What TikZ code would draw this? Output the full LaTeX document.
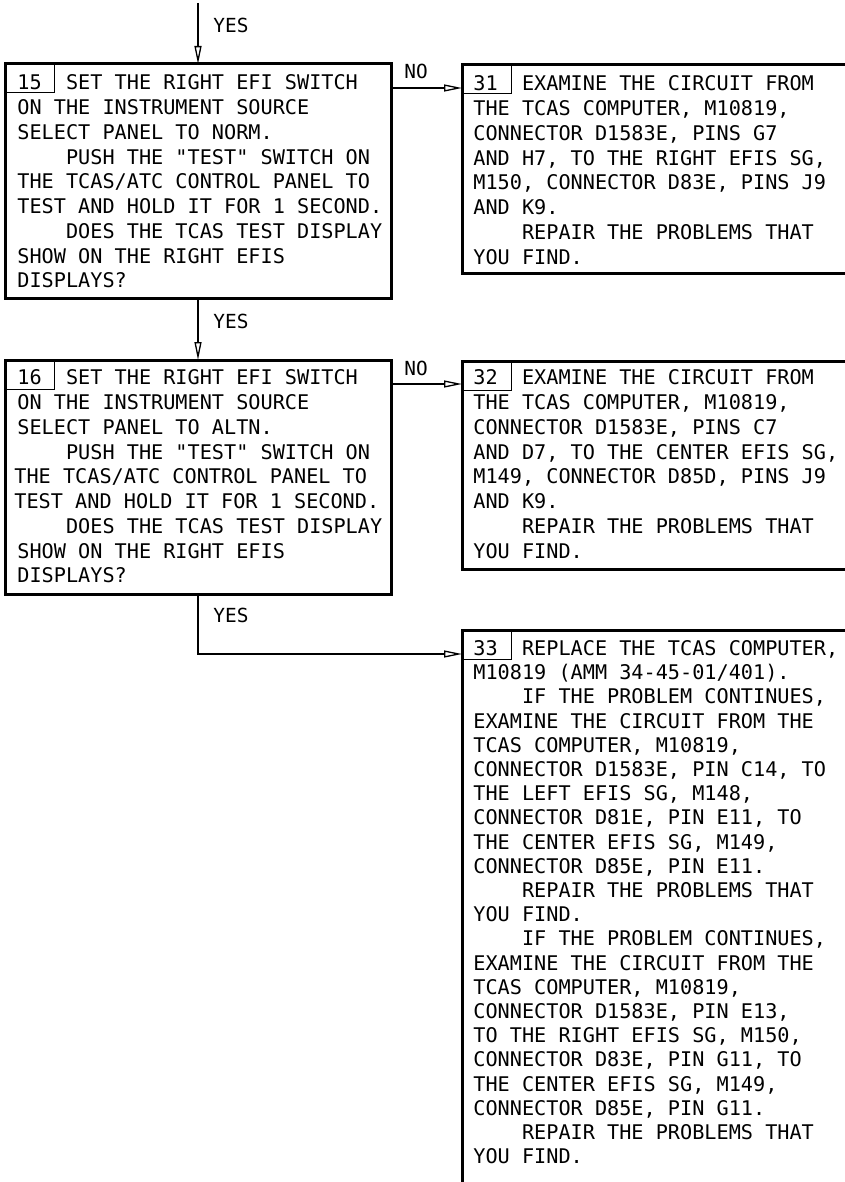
\documentclass[tikz,border=0pt]{standalone}
\usepackage{fontspec}
\newfontfamily\mono[Ligatures=TeXOff]{DejaVu Sans Mono}
\usetikzlibrary{arrows.meta}
\newcommand\myind{\hphantom{XXXX}}
\newcommand\mysp{\hphantom{XX}}
\newcommand\fl{\rule{0pt}{9pt}}
\tikzset{
  box/.style={draw, line width=1.5pt, inner sep=0pt, outer sep=0pt, anchor=north west},
  numbox/.style={draw, line width=0.5pt, inner sep=0pt, outer sep=0pt, anchor=north west,
    minimum width=24.5pt, minimum height=14.5pt},
  txt/.style={anchor=north west, inner sep=0pt, align=left,
    font=\mono\fontsize{10.1}{12.375}\selectfont},
  txtb/.style={txt, font=\mono\fontsize{10.1}{12.1}\selectfont},
  lbl/.style={anchor=west, inner sep=0pt, font=\mono\fontsize{9.7}{11}\selectfont},
  conn/.style={line width=0.65pt},
  arr/.style={conn, -{Triangle[open, length=9pt, width=3.5pt]}}
}
\begin{document}
\begin{tikzpicture}[x=0.5pt, y=-0.5pt]
\useasboundingbox (0,0) rectangle (845,1182);
% boxes
\node[box, minimum width=193pt, minimum height=117pt] (b15) at (5,64) {};
\node[box, minimum width=193pt, minimum height=117pt] (b16) at (5,360) {};
\node[box, minimum width=192.5pt, minimum height=104pt] (b31) at (462,65) {};
\node[box, minimum width=192.5pt, minimum height=104pt] (b32) at (462,361) {};
\node[box, minimum width=192.5pt, minimum height=276.5pt] (b33) at (462,630) {};
% number boxes
\node[numbox] (n15) at (5,64) {};
\node[numbox] (n16) at (5,360) {};
\node[numbox] (n31) at (462,65) {};
\node[numbox] (n32) at (462,361) {};
\node[numbox] (n33) at (462,630) {};
% texts
\node[txt] (t15) at (17,71.4) {\fl 15\mysp SET THE RIGHT EFI SWITCH\\
ON THE INSTRUMENT SOURCE\\
SELECT PANEL TO NORM.\\
\myind PUSH THE "TEST" SWITCH ON\\
THE TCAS/ATC CONTROL PANEL TO\\
TEST AND HOLD IT FOR 1 SECOND.\\
\myind DOES THE TCAS TEST DISPLAY\\
SHOW ON THE RIGHT EFIS\\
DISPLAYS?};
\node[txt] (t16) at (17,366.4) {\fl 16\mysp SET THE RIGHT EFI SWITCH\\
ON THE INSTRUMENT SOURCE\\
SELECT PANEL TO ALTN.\\
\myind PUSH THE "TEST" SWITCH ON\\
\hspace*{-1.5pt}THE TCAS/ATC CONTROL PANEL TO\\
\hspace*{-1.5pt}TEST AND HOLD IT FOR 1 SECOND.\\
\myind DOES THE TCAS TEST DISPLAY\\
SHOW ON THE RIGHT EFIS\\
DISPLAYS?};
\node[txt] (t31) at (473,72.4) {\fl 31\mysp EXAMINE THE CIRCUIT FROM\\
THE TCAS COMPUTER, M10819,\\
CONNECTOR D1583E, PINS G7\\
AND H7, TO THE RIGHT EFIS SG,\\
M150, CONNECTOR D83E, PINS J9\\
AND K9.\\
\myind REPAIR THE PROBLEMS THAT\\
YOU FIND.};
\node[txt] (t32) at (473,366.4) {\fl 32\mysp EXAMINE THE CIRCUIT FROM\\
THE TCAS COMPUTER, M10819,\\
CONNECTOR D1583E, PINS C7\\
AND D7, TO THE CENTER EFIS SG,\\
M149, CONNECTOR D85D, PINS J9\\
AND K9.\\
\myind REPAIR THE PROBLEMS THAT\\
YOU FIND.};
\node[txtb] (t33) at (473,637) {\fl 33\mysp REPLACE THE TCAS COMPUTER,\\
M10819 (AMM 34-45-01/401).\\
\myind IF THE PROBLEM CONTINUES,\\
EXAMINE THE CIRCUIT FROM THE\\
TCAS COMPUTER, M10819,\\
CONNECTOR D1583E, PIN C14, TO\\
THE LEFT EFIS SG, M148,\\
CONNECTOR D81E, PIN E11, TO\\
THE CENTER EFIS SG, M149,\\
CONNECTOR D85E, PIN E11.\\
\myind REPAIR THE PROBLEMS THAT\\
YOU FIND.\\
\myind IF THE PROBLEM CONTINUES,\\
EXAMINE THE CIRCUIT FROM THE\\
TCAS COMPUTER, M10819,\\
CONNECTOR D1583E, PIN E13,\\
TO THE RIGHT EFIS SG, M150,\\
CONNECTOR D83E, PIN G11, TO\\
THE CENTER EFIS SG, M149,\\
CONNECTOR D85E, PIN G11.\\
\myind REPAIR THE PROBLEMS THAT\\
YOU FIND.};
% connector helpers
\coordinate (top) at (198,3);
\coordinate (y15) at (0,88);
\coordinate (y16) at (0,384);
\coordinate (y33) at (0,654);
% connectors
\draw[arr] (top) -- (b15.north);
\draw[arr] (b15.south) -- (b16.north);
\draw[arr] (b15.east |- y15) -- (b31.west |- y15);
\draw[arr] (b16.east |- y16) -- (b32.west |- y16);
\draw[arr] (b16.south) |- (b33.west |- y33);
% labels
\node[lbl] (yes1) at (213,25) {YES};
\node[lbl] (yes2) at (213,321) {YES};
\node[lbl] (yes3) at (213,615) {YES};
\node[lbl] (no1) at (404,71) {NO};
\node[lbl] (no2) at (404,368) {NO};
\end{tikzpicture}
\end{document}
